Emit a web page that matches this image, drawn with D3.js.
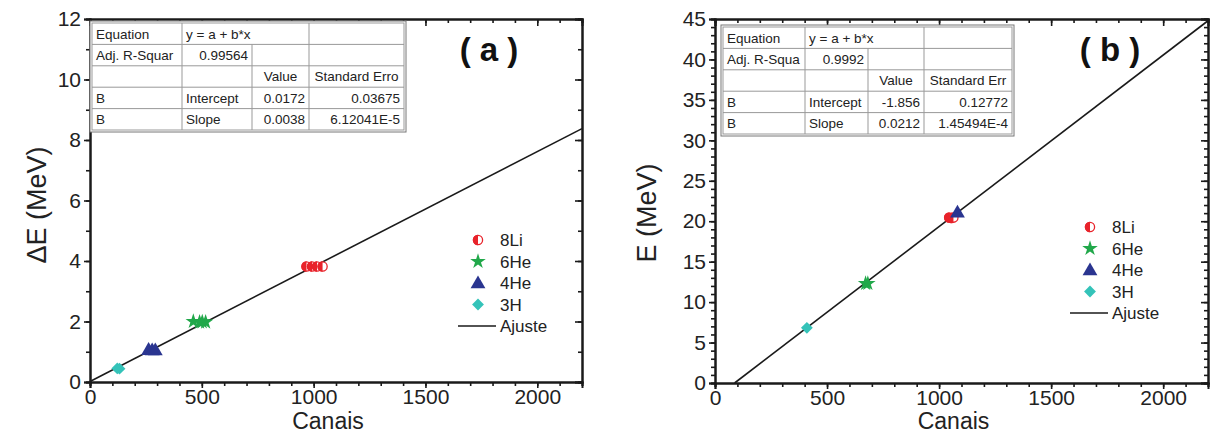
<!DOCTYPE html>
<html>
<head>
<meta charset="utf-8">
<script src="https://cdn.jsdelivr.net/npm/d3@7"></script>
<style>
  body { margin: 0; background: #fff; }
  svg { font-family: "Liberation Sans", Arial, Helvetica, sans-serif; }
</style>
</head>
<body>
<script>
// --- data ----------------------------------------------------------------
var seriesNames = ["8Li", "6He", "4He", "3H"];

// panel (a): Delta E vs channel
var a_chan   = [[968, 993, 1015, 1040], [462, 490, 502, 517], [262, 278, 292], [122, 132]];
var a_energy = [[3.82, 3.82, 3.82, 3.82], [2.0, 1.98, 1.99, 1.98], [1.07, 1.06, 1.06], [0.45, 0.44]];
var a_fit    = {intercept: 0.0172, slope: 0.0038};

// panel (b): E vs channel
var b_chan   = [[1045, 1056, 1064], [672, 682], [1082], [410]];
var b_energy = [[20.45, 20.4, 20.45], [12.3, 12.3], [21.1], [6.82]];
var b_fit    = {intercept: -1.856, slope: 0.0212};

var a_table = [
  ["Equation", "y = a + b*x", null, ""],
  ["Adj. R-Squar", "0.99564", "", ""],
  ["", "", "Value", "Standard Erro"],
  ["B", "Intercept", "0.0172", "0.03675"],
  ["B", "Slope", "0.0038", "6.12041E-5"]
];
var b_table = [
  ["Equation", "y = a + b*x", null, ""],
  ["Adj. R-Squa", "0.9992", "", ""],
  ["", "", "Value", "Standard Err"],
  ["B", "Intercept", "-1.856", "0.12772"],
  ["B", "Slope", "0.0212", "1.45494E-4"]
];

var colors = ["#e8232b", "#21a84a", "#2a3590", "#34c3b9"];

var svg = d3.select("body").append("svg")
    .attr("width", 1214)
    .attr("height", 445);

function drawPanel(p) {
  var x = d3.scaleLinear().domain([0, 2200]).range([p.left, p.right]);
  var y = d3.scaleLinear().domain([0, p.ymax]).range([p.bottom, p.top]);
  var g = svg.append("g");

  // fit line, clipped at y = 0 and x = 2200
  var x0 = Math.max(0, -p.fit.intercept / p.fit.slope);
  var fitPts = [x0, 2200].map(function(c) { return [c, p.fit.intercept + p.fit.slope * c]; });
  g.append("path")
      .datum(fitPts)
      .attr("fill", "none")
      .attr("stroke", "#1a1a1a")
      .attr("stroke-width", 1.6)
      .attr("d", d3.line().x(function(d) { return x(d[0]); }).y(function(d) { return y(d[1]); }));

  // points
  seriesNames.forEach(function(name, i) {
    p.chan[i].forEach(function(c, j) {
      drawSymbol(g, i, x(c), y(p.energy[i][j]));
    });
  });

  // axes
  var xMinor = d3.range(0, 2201, 100), yMinor = d3.range(0, p.ymax + 0.001, p.yminor);
  var xMajor = d3.range(0, 2001, 500), yMajor = d3.range(0, p.ymax + 0.001, p.ymajor);
  var fmt = d3.format("d");

  g.append("g").attr("transform", "translate(0," + p.bottom + ")")
      .call(d3.axisBottom(x).tickValues(xMinor).tickSize(4).tickFormat(""))
      .call(styleAxis);
  g.append("g").attr("class", "xlab").attr("transform", "translate(0," + p.bottom + ")")
      .call(d3.axisBottom(x).tickValues(xMajor).tickSize(6).tickPadding(1).tickFormat(fmt))
      .call(styleAxis);
  g.append("g").attr("transform", "translate(" + p.left + ",0)")
      .call(d3.axisLeft(y).tickValues(yMinor).tickSize(4).tickFormat(""))
      .call(styleAxis);
  g.append("g").attr("transform", "translate(" + p.left + ",0)")
      .call(d3.axisLeft(y).tickValues(yMajor).tickSize(6).tickPadding(3).tickFormat(fmt))
      .call(styleAxis);
  // top and right, ticks inward
  g.append("g").attr("transform", "translate(0," + p.top + ")")
      .call(d3.axisTop(x).tickValues(xMinor).tickSize(-4).tickFormat(""))
      .call(styleAxis);
  g.append("g").attr("transform", "translate(0," + p.top + ")")
      .call(d3.axisTop(x).tickValues(xMajor).tickSize(-7).tickFormat(""))
      .call(styleAxis);
  g.append("g").attr("transform", "translate(" + p.right + ",0)")
      .call(d3.axisRight(y).tickValues(yMinor).tickSize(-4).tickFormat(""))
      .call(styleAxis);
  g.append("g").attr("transform", "translate(" + p.right + ",0)")
      .call(d3.axisRight(y).tickValues(yMajor).tickSize(-7).tickFormat(""))
      .call(styleAxis);

  g.selectAll(".tick text").style("font-size", "21px").attr("fill", "#222");

  // axis titles
  g.append("text")
      .attr("x", (p.left + p.right) / 2 - 8)
      .attr("y", 429)
      .attr("text-anchor", "middle")
      .style("font-size", "23px")
      .attr("fill", "#222")
      .text("Canais");
  g.append("text")
      .attr("transform", "translate(" + p.ytitleX + "," + p.ytitleY + ") rotate(-90)")
      .attr("text-anchor", "middle")
      .style("font-size", "27px")
      .attr("fill", "#222")
      .text(p.ytitle);

  // panel letter
  g.append("text")
      .attr("x", p.letterX)
      .attr("y", 61)
      .attr("text-anchor", "middle")
      .style("font-size", "33px")
      .style("font-weight", "bold")
      .attr("fill", "#111")
      .text(p.letter);

  drawTable(g, p.table, p.tableX, p.tableY, p.cols);

  // legend
  seriesNames.forEach(function(name, i) {
    var ly = p.legY + i * 21.5;
    drawSymbol(g, i, p.legX, ly);
    g.append("text").attr("x", p.legX + 22).attr("y", ly + 6)
        .style("font-size", "17px").attr("fill", "#222").text(name);
  });
  var ay = p.legY + 4 * 21.5;
  g.append("line")
      .attr("x1", p.legX - 20).attr("x2", p.legX + 18)
      .attr("y1", ay).attr("y2", ay)
      .attr("stroke", "#1a1a1a").attr("stroke-width", 1.6);
  g.append("text").attr("x", p.legX + 22).attr("y", ay + 6)
      .style("font-size", "17px").attr("fill", "#222").text("Ajuste");
}

function styleAxis(sel) {
  sel.select(".domain").attr("stroke", "#1a1a1a").attr("stroke-width", 2);
  sel.selectAll(".tick line").attr("stroke", "#1a1a1a").attr("stroke-width", 1.6);
}

function drawSymbol(g, i, cx, cy) {
  var col = colors[i];
  if (i === 0) {
    g.append("circle").attr("cx", cx).attr("cy", cy).attr("r", 4.6)
        .attr("fill", "#fff").attr("stroke", col).attr("stroke-width", 1.3);
    g.append("path")
        .attr("d", d3.arc()({innerRadius: 0, outerRadius: 5.2, startAngle: Math.PI, endAngle: 2 * Math.PI}))
        .attr("transform", "translate(" + cx + "," + cy + ")")
        .attr("fill", col);
  } else if (i === 1) {
    g.append("path").attr("d", d3.symbol(d3.symbolStar, 75)())
        .attr("transform", "translate(" + cx + "," + cy + ")").attr("fill", col);
  } else if (i === 2) {
    g.append("path").attr("d", d3.symbol(d3.symbolTriangle, 95)())
        .attr("transform", "translate(" + cx + "," + (cy + 1) + ")").attr("fill", col);
  } else {
    g.append("path").attr("d", d3.symbol(d3.symbolSquare, 70)())
        .attr("transform", "translate(" + cx + "," + cy + ") rotate(45)").attr("fill", col);
  }
}

function drawTable(g, rows, tx, ty, cols) {
  var rh = 21.4;
  var W = cols[cols.length - 1];
  var t = g.append("g").attr("transform", "translate(" + tx + "," + ty + ")");
  t.append("rect").attr("x", -2).attr("y", -2).attr("width", W + 4).attr("height", rh * rows.length + 4)
      .attr("fill", "#fff").attr("stroke", "#777").attr("stroke-width", 1);
  t.append("rect").attr("width", W).attr("height", rh * rows.length)
      .attr("fill", "none").attr("stroke", "#999").attr("stroke-width", 1);
  rows.forEach(function(r, ri) {
    if (ri > 0) {
      t.append("line").attr("x1", 0).attr("x2", W).attr("y1", ri * rh).attr("y2", ri * rh)
          .attr("stroke", "#999");
    }
    // vertical separators
    [1, 2, 3].forEach(function(ci) {
      if (ci === 2 && r[2] === null) return;
      t.append("line").attr("x1", cols[ci]).attr("x2", cols[ci])
          .attr("y1", ri * rh).attr("y2", (ri + 1) * rh).attr("stroke", "#999");
    });
    r.forEach(function(cell, ci) {
      if (!cell) return;
      var right = (ri === 1 && ci === 1) || (ri >= 3 && ci >= 2);
      var center = (ri === 2);
      var tx2 = right ? cols[ci + 1] - 4 : center ? (cols[ci] + cols[ci + 1]) / 2 : cols[ci] + 4;
      t.append("text")
          .attr("x", tx2)
          .attr("y", ri * rh + 15.5)
          .attr("text-anchor", right ? "end" : center ? "middle" : "start")
          .style("font-size", "13.5px")
          .attr("fill", "#222")
          .text(cell);
    });
  });
}

drawPanel({
  left: 90, right: 582, top: 19, bottom: 382, ymax: 12, ymajor: 2, yminor: 1,
  chan: a_chan, energy: a_energy, fit: a_fit,
  ytitle: "\u0394E (MeV)", ytitleX: 46, ytitleY: 205, letter: "( a )", letterX: 489,
  table: a_table, tableX: 92, tableY: 23, cols: [0, 90, 160, 217, 312],
  legX: 478, legY: 240
});
drawPanel({
  left: 715, right: 1208, top: 19, bottom: 383, ymax: 45, ymajor: 5, yminor: 1,
  chan: b_chan, energy: b_energy, fit: b_fit,
  ytitle: "E (MeV)", ytitleX: 656, ytitleY: 213, letter: "( b )", letterX: 1110,
  table: b_table, tableX: 723, tableY: 27, cols: [0, 82, 145, 201, 289],
  legX: 1090, legY: 227
});
</script>
</body>
</html>
